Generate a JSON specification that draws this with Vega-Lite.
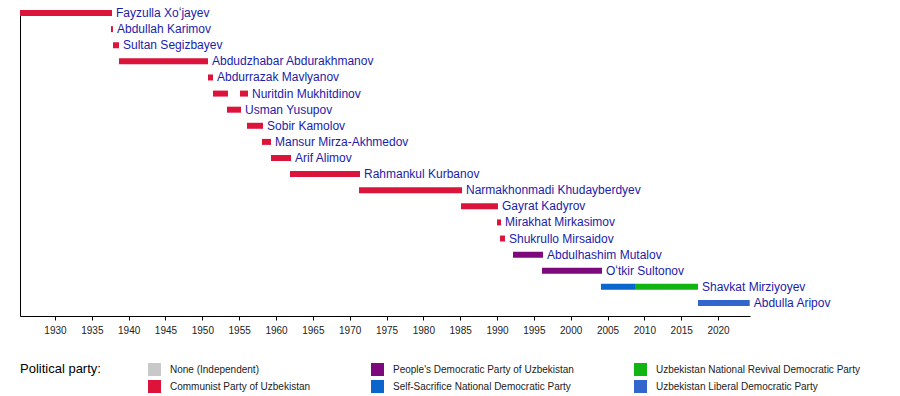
{
  "$schema": "https://vega.github.io/schema/vega-lite/v6.json",
  "width": 730,
  "height": 306,
  "autosize": {"type": "none"},
  "padding": {"left": 20, "top": 10, "right": 150, "bottom": 80},
  "background": "white",
  "config": {
    "view": {"stroke": null},
    "font": "Liberation Sans",
    "axisX": {
      "title": null,
      "grid": false,
      "values": [1926,1927,1928,1929,1930,1931,1932,1933,1934,1935,1936,1937,1938,1939,1940,1941,1942,1943,1944,1945,1946,1947,1948,1949,1950,1951,1952,1953,1954,1955,1956,1957,1958,1959,1960,1961,1962,1963,1964,1965,1966,1967,1968,1969,1970,1971,1972,1973,1974,1975,1976,1977,1978,1979,1980,1981,1982,1983,1984,1985,1986,1987,1988,1989,1990,1991,1992,1993,1994,1995,1996,1997,1998,1999,2000,2001,2002,2003,2004,2005,2006,2007,2008,2009,2010,2011,2012,2013,2014,2015,2016,2017,2018,2019,2020,2021,2022,2023,2024],
      "labelExpr": "datum.value % 5 === 0 ? toString(datum.value) : ''",
      "labelOverlap": false,
      "labelFlush": false,
      "labelBound": false,
      "labelFontSize": 10,
      "labelColor": "#222222",
      "labelPadding": 5,
      "domainColor": "black",
      "tickColor": "black",
      "tickSize": {"condition": {"test": "datum.value % 5 === 0", "value": 4}, "value": 2.5}
    }
  },
  "data": {
    "values": [
      {"name": "Fayzulla Xoʻjayev", "start": 1925.25, "end": 1937.74, "party": "Communist Party of Uzbekistan"},
      {"name": "Abdullah Karimov", "start": 1937.6, "end": 1937.87, "party": "Communist Party of Uzbekistan"},
      {"name": "Sultan Segizbayev", "start": 1937.87, "end": 1938.69, "party": "Communist Party of Uzbekistan"},
      {"name": "Abdudzhabar Abdurakhmanov", "start": 1938.69, "end": 1950.77, "party": "Communist Party of Uzbekistan"},
      {"name": "Abdurrazak Mavlyanov", "start": 1950.77, "end": 1951.45, "party": "Communist Party of Uzbekistan"},
      {"name": "Nuritdin Mukhitdinov", "start": 1951.45, "end": 1953.48, "party": "Communist Party of Uzbekistan"},
      {"name": "Nuritdin Mukhitdinov", "start": 1955.11, "end": 1956.2, "party": "Communist Party of Uzbekistan"},
      {"name": "Usman Yusupov", "start": 1953.35, "end": 1955.25, "party": "Communist Party of Uzbekistan"},
      {"name": "Sobir Kamolov", "start": 1956.06, "end": 1958.24, "party": "Communist Party of Uzbekistan"},
      {"name": "Mansur Mirza-Akhmedov", "start": 1958.1, "end": 1959.32, "party": "Communist Party of Uzbekistan"},
      {"name": "Arif Alimov", "start": 1959.32, "end": 1962.04, "party": "Communist Party of Uzbekistan"},
      {"name": "Rahmankul Kurbanov", "start": 1961.9, "end": 1971.4, "party": "Communist Party of Uzbekistan"},
      {"name": "Narmakhonmadi Khudayberdyev", "start": 1971.27, "end": 1985.25, "party": "Communist Party of Uzbekistan"},
      {"name": "Gayrat Kadyrov", "start": 1985.11, "end": 1990.13, "party": "Communist Party of Uzbekistan"},
      {"name": "Mirakhat Mirkasimov", "start": 1990.0, "end": 1990.54, "party": "Communist Party of Uzbekistan"},
      {"name": "Shukrullo Mirsaidov", "start": 1990.41, "end": 1991.08, "party": "Communist Party of Uzbekistan"},
      {"name": "Abdulhashim Mutalov", "start": 1992.17, "end": 1996.24, "party": "People's Democratic Party of Uzbekistan"},
      {"name": "Oʻtkir Sultonov", "start": 1996.11, "end": 2004.25, "party": "People's Democratic Party of Uzbekistan"},
      {"name": "Shavkat Mirziyoyev", "start": 2004.11, "end": 2008.73, "party": "Self-Sacrifice National Democratic Party"},
      {"name": "Shavkat Mirziyoyev", "start": 2008.73, "end": 2017.28, "party": "Uzbekistan National Revival Democratic Party"},
      {"name": "Abdulla Aripov", "start": 2017.28, "end": 2024.3, "party": "Uzbekistan Liberal Democratic Party"}
    ]
  },
  "encoding": {
    "y": {
      "field": "name",
      "type": "nominal",
      "sort": ["Fayzulla Xoʻjayev", "Abdullah Karimov", "Sultan Segizbayev", "Abdudzhabar Abdurakhmanov", "Abdurrazak Mavlyanov", "Nuritdin Mukhitdinov", "Usman Yusupov", "Sobir Kamolov", "Mansur Mirza-Akhmedov", "Arif Alimov", "Rahmankul Kurbanov", "Narmakhonmadi Khudayberdyev", "Gayrat Kadyrov", "Mirakhat Mirkasimov", "Shukrullo Mirsaidov", "Abdulhashim Mutalov", "Oʻtkir Sultonov", "Shavkat Mirziyoyev", "Abdulla Aripov"],
      "scale": {"paddingInner": 0, "paddingOuter": 0},
      "axis": {"title": null, "labels": false, "ticks": false, "domain": true, "domainColor": "black", "domainWidth": 1, "grid": false}
    }
  },
  "layer": [
    {
      "mark": {"type": "bar", "size": 6, "yOffset": -5},
      "encoding": {
        "x": {
          "field": "start",
          "type": "quantitative",
          "title": null,
          "scale": {"domain": [1925.25, 2024.34], "nice": false, "zero": false}
        },
        "x2": {"field": "end"},
        "color": {
          "field": "party",
          "type": "nominal",
          "scale": {
            "domain": ["None (Independent)", "Communist Party of Uzbekistan", "People's Democratic Party of Uzbekistan", "Self-Sacrifice National Democratic Party", "Uzbekistan National Revival Democratic Party", "Uzbekistan Liberal Democratic Party"],
            "range": ["#c8c8c8", "#dc143c", "#7d0a7d", "#0a66cc", "#11b411", "#3366cc"]
          },
          "legend": {
            "orient": "none",
            "legendX": 0,
            "legendY": 353,
            "columns": 3,
            "gridAlign": "each",
            "title": "Political party:",
            "titleOrient": "left",
            "titleAnchor": "start",
            "titleBaseline": "top",
            "titleFontSize": 13,
            "titleFontWeight": "normal",
            "titleColor": "black",
            "titlePadding": 47,
            "symbolType": "square",
            "symbolSize": 169,
            "symbolStrokeWidth": 0,
            "symbolOpacity": 1,
            "labelFontSize": 10,
            "labelColor": "#222222",
            "labelOffset": 9,
            "rowPadding": 4,
            "columnPadding": 60,
            "padding": 0,
            "labelLimit": 400
          }
        }
      }
    },
    {
      "mark": {"type": "text", "align": "left", "baseline": "middle", "dx": 4, "yOffset": -5, "fontSize": 12, "color": "#1c1caa"},
      "encoding": {
        "x": {"aggregate": "max", "field": "end", "type": "quantitative", "title": null},
        "text": {"field": "name"}
      }
    }
  ]
}
